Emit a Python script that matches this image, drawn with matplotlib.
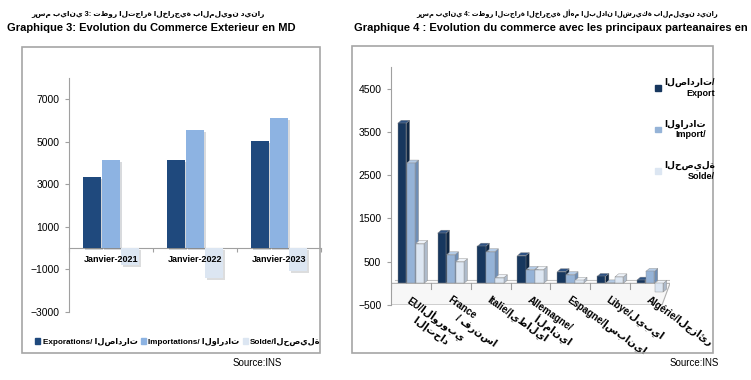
import numpy as np
import matplotlib.pyplot as plt
from matplotlib.patches import Rectangle, Polygon
import matplotlib.patheffects as pe

plt.rcParams['font.family'] = ['Liberation Sans', 'DejaVu Sans']

# ---- data: graphique 3 ----
annees = ['Janvier-2021', 'Janvier-2022', 'Janvier-2023']
exportations = [3340, 4150, 5040]
importations = [4140, 5550, 6120]
solde = [-800, -1400, -1080]

# ---- data: graphique 4 ----
pays = ['EU/الأوروبي\n      الإتحاد', 'France\n      / فرنسا', 'Italie/إيطاليا',
        'Allemagne/\n      ألمانيا', 'Espagne/إسبانيا', 'Libye/ليبيا', 'Algérie/الجزائر']
export_p = [3700, 1160, 860, 640, 270, 160, 75]
import_p = [2780, 660, 730, 320, 200, 10, 275]
solde_p = [920, 500, 130, 320, 70, 150, -200]

W, H = 751, 380
fig = plt.figure(figsize=(W / 100, H / 100), dpi=100)


def fx(px):
    return px / W


def fy(py):
    return 1 - py / H


# cadres
for x0, y0, x1, y1 in [(22, 47, 320, 353), (352, 46, 713, 353)]:
    fig.patches.append(Rectangle((fx(x0), fy(y1)), fx(x1 - x0), (y1 - y0) / H,
                                 transform=fig.transFigure, fill=False,
                                 ec='#A6A6A6', lw=1.2))

# titres
fig.text(fx(148), fy(14), 'رسم بياني 3: تطور التجارة الخارجية بالمليون دينار',
         ha='center', va='center', fontsize=5.3, fontweight='bold')
fig.text(fx(567), fy(14), 'رسم بياني 4: تطور التجارة الخارجية لأهم البلدان الشريكة بالمليون دينار',
         ha='center', va='center', fontsize=4.8, fontweight='bold')
fig.text(fx(151), fy(28), 'Graphique 3: Evolution du Commerce Exterieur en MD',
         ha='center', va='center', fontsize=8, fontweight='bold')
fig.text(fx(354), fy(28), 'Graphique 4 : Evolution du commerce avec les principaux parteanaires en',
         ha='left', va='center', fontsize=8, fontweight='bold')
fig.text(fx(282), fy(363), 'Source:INS', ha='right', va='center', fontsize=7)
fig.text(fx(719), fy(363), 'Source:INS', ha='right', va='center', fontsize=7)

c_exp, c_imp, c_sol = '#1F497D', '#8DB3E2', '#DCE6F2'

# ================= Graphique 3 =================
ax1 = fig.add_axes([fx(69), fy(312), fx(252), 234 / H])
x = np.arange(len(annees))
w = 0.215
shadow = [pe.SimplePatchShadow(offset=(1.2, -1.2), alpha=0.18), pe.Normal()]
for off, vals, col in [(-0.226, exportations, c_exp), (0, importations, c_imp), (0.226, solde, c_sol)]:
    bars = ax1.bar(x + off, vals, w, color=col, zorder=3)
    for b in bars:
        b.set_path_effects(shadow)

ax1.set_xlim(-0.5, 2.5)
ax1.set_ylim(-3000, 8000)
ax1.set_yticks([-3000, -1000, 1000, 3000, 5000, 7000])
ax1.tick_params(axis='y', labelsize=7.5, length=3, color='#A0A0A0', pad=4)
for s in ['top', 'right']:
    ax1.spines[s].set_visible(False)
ax1.spines['left'].set_color('#A0A0A0')
ax1.spines['bottom'].set_position(('data', 0))
ax1.spines['bottom'].set_color('#A0A0A0')
ax1.set_xticks([-0.5, 0.5, 1.5, 2.5])
ax1.set_xticklabels([])
ax1.tick_params(axis='x', length=3, color='#A0A0A0')
for i, lab in enumerate(annees):
    ax1.annotate(lab, (i, 0), xytext=(0, -5), textcoords='offset points',
                 ha='center', va='top', fontsize=6.5, fontweight='bold', zorder=5)

handles1 = [Rectangle((0, 0), 1, 1, color=c) for c in (c_exp, c_imp, c_sol)]
labels1 = ['Exporations/ الصادرات', 'Importations/ الواردات', 'Solde/الحصيلة']
fig.legend(handles1, labels1, loc='center', bbox_to_anchor=(fx(178), fy(342)),
           ncol=3, frameon=False, handlelength=0.6, handleheight=0.6,
           handletextpad=0.3, columnspacing=0.4,
           prop={'weight': 'bold', 'size': 5.9})

# ================= Graphique 4 =================
ax2 = fig.add_axes([fx(391), fy(305), fx(279), 238 / H])
n = len(pays)
ax2.set_xlim(-0.5, n - 0.5)
ax2.set_ylim(-500, 5000)
ax2.set_yticks([-500, 500, 1500, 2500, 3500, 4500])
ax2.tick_params(axis='y', labelsize=7.5, length=3, color='#A0A0A0', pad=4)
for s in ['top', 'right', 'bottom']:
    ax2.spines[s].set_visible(False)
ax2.spines['left'].set_color('#A0A0A0')
ax2.set_xticks([])

# profondeur 3D en pixels -> unités de données
dx = 3.5 / 279 * n
dy = 3.0 / 238 * 5500

# sol
ax2.add_patch(Polygon([(-0.5, 0), (n - 0.5, 0), (n - 0.5 - 0.2, -500), (-0.5, -500)],
                       closed=True, fc='#F7F7F7', ec='#B0B0B0', lw=0.8, zorder=1))
ax2.plot([-0.5 + dx, n - 0.5 + dx], [dy, dy], color='#BFBFBF', lw=0.8, zorder=1)
for k in range(n + 1):
    ax2.plot([k - 0.5, k - 0.5], [0, -120], color='#A0A0A0', lw=0.8, zorder=1)

series = [(export_p, ('#17375E', '#0F2744', '#2E5283')),
          (import_p, ('#95B3D7', '#6F8EB5', '#B4CBE6')),
          (solde_p, ('#DCE6F2', '#AEBBCB', '#EEF3F9'))]
bw = 0.21
for j, (vals, (cf, cs, ct)) in enumerate(series):
    xs = np.arange(n) + (j - 1) * 0.225
    for xi, v in zip(xs, vals):
        x0, x1 = xi - bw / 2, xi + bw / 2
        y0, y1 = min(0, v), max(0, v)
        ax2.add_patch(Polygon([(x1, y0), (x1 + dx, y0 + dy), (x1 + dx, y1 + dy), (x1, y1)],
                               closed=True, fc=cs, ec='#8C8C8C', lw=0.3, zorder=3 + j))
        ax2.add_patch(Polygon([(x0, y1), (x0 + dx, y1 + dy), (x1 + dx, y1 + dy), (x1, y1)],
                               closed=True, fc=ct, ec='#8C8C8C', lw=0.3, zorder=3 + j))
        ax2.bar(xi, v, bw, color=cf, edgecolor='#8C8C8C', linewidth=0.3, zorder=3 + j)

for i, lab in enumerate(pays):
    ax2.annotate(lab, (i + 0.02, 0), xytext=(0, -8), textcoords='offset points',
                 rotation=-35, rotation_mode='anchor', ha='left', va='top',
                 fontsize=7, fontweight='bold', linespacing=1.1, zorder=6)

handles2 = [Rectangle((0, 0), 1, 1, color=c) for c in ('#17375E', '#95B3D7', '#DCE6F2')]
labels2 = ['الصادرات/\nExport', 'الواردات\nImport/', 'الحصيلة\nSolde/']
leg = fig.legend(handles2, labels2, loc='upper left', bbox_to_anchor=(fx(647), fy(70)),
                 frameon=False, handlelength=0.6, handleheight=0.6, handletextpad=0.4,
                 labelspacing=2.4, prop={'weight': 'bold', 'size': 6.5})
for t in leg.get_texts():
    t.set_multialignment('right')

fig.savefig('out.png', dpi=100)
